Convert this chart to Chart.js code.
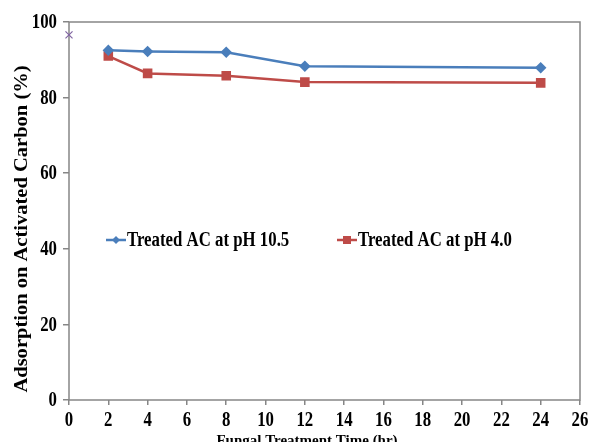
<!DOCTYPE html>
<html>
<head>
<meta charset="utf-8">
<script src="https://cdn.jsdelivr.net/npm/chart.js@4"></script>
<style>
  html, body { margin: 0; padding: 0; background: #fff; }
  #wrap { width: 592px; height: 442px; }
</style>
</head>
<body>
<div id="wrap"><canvas id="chart"></canvas></div>
<script>
// data
var hours = [2, 4, 8, 12, 24];
var ph105 = [92.5, 92.2, 92.0, 88.3, 87.9];
var ph40 = [91.0, 86.4, 85.8, 84.1, 83.9];
var untreatedX = [0];
var untreatedY = [96.6];
var xTicks = [0, 2, 4, 6, 8, 10, 12, 14, 16, 18, 20, 22, 24, 26];
var yTicks = [0, 20, 40, 60, 80, 100];
var xTitle = 'Fungal Treatment Time (hr)';
var yTitle = 'Adsorption on Activated Carbon (%)';

var blue = '#4a7ebb';
var red = '#be4b48';
var purple = '#8064a2';
var axisGrey = '#868686';
var serif = '"Liberation Serif", "Times New Roman", serif';
var squeeze = 0.84; // the original's text is narrow for its height

var pts = (xs, ys) => xs.map((x, i) => ({x: x, y: ys[i]}));

// narrow text helper
var narrowText = (c, txt, x, y, align) => {
  c.save();
  c.translate(x, y);
  c.scale(squeeze, 1);
  c.textAlign = align;
  c.fillText(txt, 0, 0);
  c.restore();
};

// grey frame round the plot area
var frame = {
  id: 'frame',
  beforeDatasetsDraw(chart) {
    let a = chart.chartArea, c = chart.ctx;
    c.save();
    c.strokeStyle = axisGrey;
    c.lineWidth = 1.5;
    c.strokeRect(a.left, a.top, a.right - a.left, a.bottom - a.top);
    c.restore();
  }
};

// tick labels, placed through the scales
var tickText = {
  id: 'tickText',
  afterDraw(chart) {
    let c = chart.ctx, sx = chart.scales.x, sy = chart.scales.y;
    c.save();
    c.fillStyle = '#000';
    c.font = 'bold 20px ' + serif;
    c.textBaseline = 'middle';
    xTicks.forEach(v => narrowText(c, String(v), sx.getPixelForValue(v), sx.top + 21, 'center'));
    yTicks.forEach(v => narrowText(c, String(v), sy.right - 12, sy.getPixelForValue(v) + 1, 'right'));
    c.restore();
  }
};

// axis titles, placed like the original (a bit off centre)
var titles = {
  id: 'titles',
  afterDraw(chart) {
    let c = chart.ctx;
    c.save();
    c.fillStyle = '#000';
    c.textAlign = 'center';
    c.textBaseline = 'middle';
    c.font = 'bold 18px ' + serif;
    c.translate(22, 229);
    c.rotate(-Math.PI / 2);
    c.scale(1.14, 1);
    c.fillText(yTitle, 0, 0);
    c.restore();
    c.save();
    c.fillStyle = '#000';
    c.textAlign = 'center';
    c.textBaseline = 'top';
    c.font = 'bold 15px ' + serif;
    c.fillText(xTitle, 307, 434);
    c.restore();
  }
};

// legend sits inside the plot, in the middle
var inLegend = {
  id: 'inLegend',
  afterDraw(chart) {
    let c = chart.ctx;
    let y = 240;
    let items = [
      {x: 106, color: blue, style: 'diamond', text: 'Treated AC at pH 10.5'},
      {x: 337, color: red, style: 'square', text: 'Treated AC at pH 4.0'}
    ];
    c.save();
    items.forEach(it => {
      c.strokeStyle = it.color;
      c.fillStyle = it.color;
      c.lineWidth = 2.5;
      c.beginPath();
      c.moveTo(it.x, y);
      c.lineTo(it.x + 20, y);
      c.stroke();
      let m = it.x + 10;
      if (it.style === 'diamond') {
        c.beginPath();
        c.moveTo(m, y - 4); c.lineTo(m + 4, y); c.lineTo(m, y + 4); c.lineTo(m - 4, y);
        c.closePath(); c.fill();
      } else {
        c.fillRect(m - 4, y - 4, 8, 8);
      }
      c.fillStyle = '#000';
      c.font = 'bold 20px ' + serif;
      c.textBaseline = 'middle';
      narrowText(c, it.text, it.x + 21, y + 1, 'left');
    });
    c.restore();
  }
};

var ctx = document.getElementById('chart').getContext('2d');
var myChart = new Chart(ctx, {
  type: 'scatter',
  data: {
    datasets: [{
      label: 'Treated AC at pH 10.5',
      data: pts(hours, ph105),
      showLine: true,
      borderColor: blue,
      backgroundColor: blue,
      borderWidth: 2.5,
      pointStyle: 'rectRot',
      pointRadius: 4,
      pointHoverRadius: 4
    }, {
      label: 'Treated AC at pH 4.0',
      data: pts(hours, ph40),
      showLine: true,
      borderColor: red,
      backgroundColor: red,
      borderWidth: 2.5,
      pointStyle: 'rect',
      pointRadius: 5,
      pointHoverRadius: 5
    }, {
      label: 'Untreated',
      data: pts(untreatedX, untreatedY),
      showLine: false,
      borderColor: purple,
      backgroundColor: purple,
      borderWidth: 1.2,
      pointStyle: 'crossRot',
      pointRadius: 5,
      clip: false
    }]
  },
  options: {
    responsive: true,
    maintainAspectRatio: false,
    animation: false,
    layout: {padding: {top: 22, right: 12, left: 0, bottom: 0}},
    plugins: {
      legend: {display: false},
      tooltip: {enabled: false}
    },
    scales: {
      x: {
        type: 'linear',
        min: 0, max: 26,
        afterBuildTicks: s => { s.ticks = xTicks.map(v => ({value: v})); },
        afterFit: s => { s.height = 42; s.paddingLeft = 0; s.paddingRight = 0; },
        grid: {display: true, drawOnChartArea: false, tickLength: 5, color: axisGrey, tickColor: axisGrey, lineWidth: 1.5},
        border: {display: false},
        ticks: {display: false},
        title: {display: false}
      },
      y: {
        min: 0, max: 100,
        afterBuildTicks: s => { s.ticks = yTicks.map(v => ({value: v})); },
        afterFit: s => { s.width = 69; s.paddingTop = 0; s.paddingBottom = 0; },
        grid: {display: true, drawOnChartArea: false, tickLength: 6, color: axisGrey, tickColor: axisGrey, lineWidth: 1.5},
        border: {display: false},
        ticks: {display: false},
        title: {display: false}
      }
    }
  },
  plugins: [frame, tickText, titles, inLegend]
});
</script>
</body>
</html>
